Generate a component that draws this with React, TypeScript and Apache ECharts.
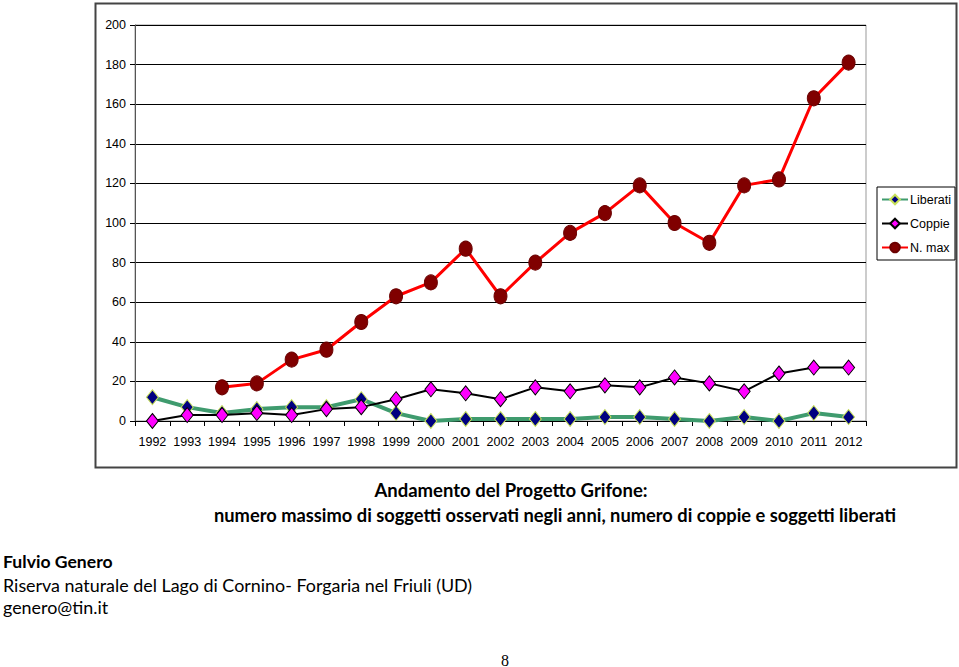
import React, { useEffect, useRef } from "react";
import * as echarts from "echarts";

const years = ["1992","1993","1994","1995","1996","1997","1998","1999","2000","2001","2002","2003","2004","2005","2006","2007","2008","2009","2010","2011","2012"];
const liberati = [12, 7, 4, 6, 7, 7, 11, 4, 0, 1, 1, 1, 1, 2, 2, 1, 0, 2, 0, 4, 2];
const coppie = [0, 3, 3, 4, 3, 6, 7, 11, 16, 14, 11, 17, 15, 18, 17, 22, 19, 15, 24, 27, 27];
const nMax = [null, null, 17, 19, 31, 36, 50, 63, 70, 87, 63, 80, 95, 105, 119, 100, 90, 119, 122, 163, 181];
const yTicks = { min: 0, max: 200, interval: 20 };

const titleLine1 = "Andamento del Progetto Grifone:";
const titleLine2 = "numero massimo di soggetti osservati negli anni, numero di coppie e soggetti liberati";
const author = "Fulvio Genero";
const affiliation = "Riserva naturale del Lago di Cornino- Forgaria nel Friuli (UD)";
const email = "genero@tin.it";
const pageNum = "8";

export default function App() {
  const ref = useRef<HTMLDivElement>(null);
  useEffect(() => {
    if (!ref.current) return;
    const chart = echarts.init(ref.current, null, { renderer: "svg" });
    const axisFont = { fontFamily: "Liberation Sans, Arial, sans-serif", fontSize: 12.5, color: "#000" };
    const textFont = "Lato, 'Noto Sans', sans-serif";
    chart.setOption({
      animation: false,
      backgroundColor: "#fff",
      grid: {
        left: 135, right: 93, top: 25, bottom: 246,
        show: true, borderColor: "#999", borderWidth: 1, backgroundColor: "#fff",
      },
      legend: {
        orient: "vertical",
        left: 877, top: 187,
        padding: [6, 4, 6, 4],
        itemWidth: 26, itemHeight: 12, itemGap: 11,
        borderColor: "#000", borderWidth: 1, backgroundColor: "#fff",
        textStyle: { ...axisFont, fontSize: 12.5, padding: [0, 0, 0, -3] },
        data: ["Liberati", "Coppie", "N. max"],
      },
      xAxis: {
        type: "category",
        data: years,
        boundaryGap: true,
        axisLine: { show: true, lineStyle: { color: "#000", width: 1 } },
        axisTick: { show: true, length: 5, lineStyle: { color: "#000" } },
        axisLabel: { ...axisFont, margin: 14, interval: 0 },
        splitLine: { show: false },
      },
      yAxis: {
        type: "value",
        min: yTicks.min, max: yTicks.max, interval: yTicks.interval,
        axisLine: { show: true, lineStyle: { color: "#555", width: 1 } },
        axisTick: { show: true, length: 5, lineStyle: { color: "#000" } },
        axisLabel: { ...axisFont, margin: 9 },
        splitLine: { show: true, lineStyle: { color: "#000", width: 1 } },
      },
      series: [
        {
          name: "Liberati", type: "line", data: liberati, z: 2,
          lineStyle: { color: "#3f9b6e", width: 4 },
          itemStyle: { color: "#000080", borderColor: "#c8e05a", borderWidth: 1 },
          symbol: "diamond", symbolSize: [12, 15], showAllSymbol: true,
        },
        {
          name: "Coppie", type: "line", data: coppie, z: 3,
          lineStyle: { color: "#000", width: 2 },
          itemStyle: { color: "#ff00ff", borderColor: "#000", borderWidth: 1 },
          symbol: "diamond", symbolSize: [12, 15], showAllSymbol: true,
        },
        {
          name: "N. max", type: "line", data: nMax, z: 4,
          lineStyle: { color: "#ff0000", width: 3 },
          itemStyle: { color: "#800000", borderColor: "#6a0000", borderWidth: 1 },
          symbol: "circle", symbolSize: [13, 15], showAllSymbol: true,
        },
      ],
      graphic: [
        {
          type: "rect", silent: true, z: -1,
          shape: { x: 95.5, y: 3.5, width: 861, height: 464 },
          style: { fill: "none", stroke: "#444", lineWidth: 2 },
        },
        {
          type: "text", x: 511, y: 490,
          style: { text: titleLine1, font: `bold 18.5px ${textFont}`, fill: "#000", textAlign: "center", textVerticalAlign: "middle" },
        },
        {
          type: "text", x: 555, y: 515,
          style: { text: titleLine2, font: `bold 18.3px ${textFont}`, fill: "#000", textAlign: "center", textVerticalAlign: "middle" },
        },
        {
          type: "text", x: 3, y: 561,
          style: { text: author, font: `bold 17.6px ${textFont}`, fill: "#000", textAlign: "left", textVerticalAlign: "middle" },
        },
        {
          type: "text", x: 3, y: 585,
          style: { text: affiliation, font: `17.9px ${textFont}`, fill: "#000", textAlign: "left", textVerticalAlign: "middle" },
        },
        {
          type: "text", x: 3, y: 607,
          style: { text: email, font: `17.9px ${textFont}`, fill: "#000", textAlign: "left", textVerticalAlign: "middle" },
        },
        {
          type: "text", x: 505, y: 660,
          style: { text: pageNum, font: `16px 'Liberation Serif', 'DejaVu Serif', serif`, fill: "#000", textAlign: "center", textVerticalAlign: "middle" },
        },
      ],
    });
    return () => chart.dispose();
  }, []);
  return (
    <div style={{ position: "absolute", left: 0, top: 0, width: 959, height: 667, background: "#fff" }}>
      <div ref={ref} style={{ width: 959, height: 667 }} />
    </div>
  );
}
